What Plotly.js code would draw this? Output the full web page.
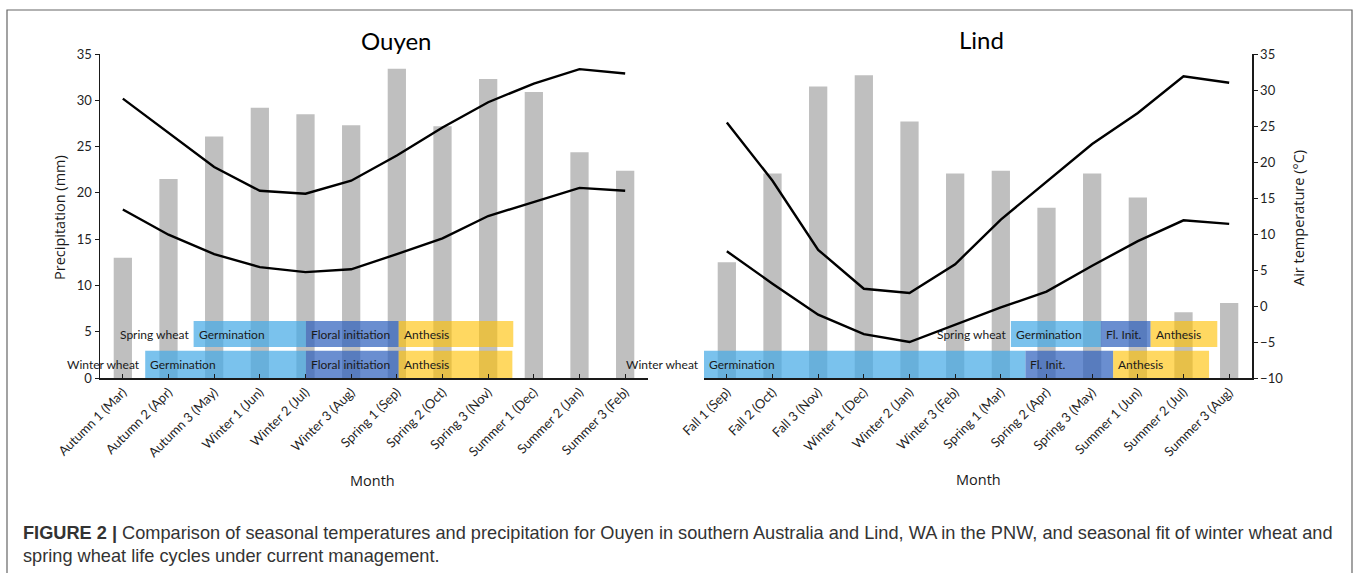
<!DOCTYPE html>
<html>
<head>
<meta charset="utf-8">
<script src="https://cdn.plot.ly/plotly-3.0.1.min.js"></script>
<style>
html,body{margin:0;padding:0;background:#fff;}
#chart{width:1358px;height:573px;}
</style>
</head>
<body>
<div id="chart"></div>
<script>
// ---------- DATA ----------
const ouyenMonths = ["Autumn 1 (Mar)","Autumn 2 (Apr)","Autumn 3 (May)","Winter 1 (Jun)","Winter 2 (Jul)","Winter 3 (Aug)","Spring 1 (Sep)","Spring 2 (Oct)","Spring 3 (Nov)","Summer 1 (Dec)","Summer 2 (Jan)","Summer 3 (Feb)"];
const ouyenPrecip = [13.0, 21.5, 26.1, 29.2, 28.5, 27.3, 33.4, 27.2, 32.3, 30.9, 24.4, 22.4];
const ouyenTmax   = [28.8, 24.1, 19.3, 16.0, 15.6, 17.4, 20.9, 24.8, 28.3, 30.9, 32.9, 32.3];
const ouyenTmin   = [13.4, 9.9, 7.2, 5.4, 4.7, 5.1, 7.2, 9.4, 12.5, 14.5, 16.4, 16.0];

const lindMonths = ["Fall 1 (Sep)","Fall 2 (Oct)","Fall 3 (Nov)","Winter 1 (Dec)","Winter 2 (Jan)","Winter 3 (Feb)","Spring 1 (Mar)","Spring 2 (Apr)","Spring 3 (May)","Summer 1 (Jun)","Summer 2 (Jul)","Summer 3 (Aug)"];
const lindPrecip = [12.5, 22.1, 31.5, 32.7, 27.7, 22.1, 22.4, 18.4, 22.1, 19.5, 7.1, 8.1];
const lindTmax   = [25.5, 17.4, 7.8, 2.4, 1.8, 5.8, 12.0, 17.3, 22.5, 26.8, 31.9, 31.0];
const lindTmin   = [7.6, 3.1, -1.2, -3.9, -5.0, -2.6, -0.2, 2.0, 5.6, 9.0, 11.9, 11.4];

// growth stages (positions in month-index units)
const ouyenStages = ["Germination","Floral initiation","Anthesis"];
const ouyenSpringStart = [1.55, 4.01, 6.04];
const ouyenSpringEnd   = [4.01, 6.04, 8.55];
const ouyenWinterStart = [0.49, 4.01, 6.04];
const ouyenWinterEnd   = [4.01, 6.04, 8.53];

const lindStages = ["Germination","Fl. Init.","Anthesis"];
const lindSpringStart = [6.22, 8.19, 9.28];
const lindSpringEnd   = [8.19, 9.28, 10.74];
const lindWinterStart = [-0.5, 6.54, 8.46];
const lindWinterEnd   = [6.54, 8.46, 10.56];

const cropRows = ["Spring wheat","Winter wheat"];
const rowBottom = [3.35, 0.0];   // precipitation-axis units
const rowTop    = [6.15, 2.95];

const precipTicks = [0,5,10,15,20,25,30,35];
const tempTicks = [-10,-5,0,5,10,15,20,25,30,35];

// ---------- STYLE ----------
const stageColors = ["rgba(70,170,230,0.72)","rgba(48,98,190,0.72)","rgba(255,192,0,0.62)"];
const barColor = "#BFBFBF";
const tickFont = {family:"Lato, 'Open Sans', sans-serif", size:13, color:"#1f1f1f"};
const idx = a => a.map((_,i)=>i);

const traces = [];
function addPanel(months, precip, tmax, tmin, xa, yP, yT){
  traces.push({type:'bar', x:idx(months), y:precip, xaxis:xa, yaxis:yP, width:0.4,
    marker:{color:barColor}, hoverinfo:'skip', showlegend:false});
  [tmax,tmin].forEach(t=>traces.push({type:'scatter', mode:'lines', x:idx(months), y:t, xaxis:xa, yaxis:yT,
    line:{color:'#000', width:2.4}, hoverinfo:'skip', showlegend:false}));
}
function addBands(starts, ends, row, xa, yP){
  const mid = (rowBottom[row]+rowTop[row])/2, w = rowTop[row]-rowBottom[row];
  traces.push({type:'bar', orientation:'h', base:starts, x:ends.map((e,i)=>e-starts[i]),
    y:starts.map(()=>mid), width:w, xaxis:xa, yaxis:yP,
    marker:{color:stageColors, line:{width:0}}, hoverinfo:'skip', showlegend:false});
}
addPanel(ouyenMonths, ouyenPrecip, ouyenTmax, ouyenTmin, 'x', 'y', 'y2');
addPanel(lindMonths, lindPrecip, lindTmax, lindTmin, 'x2', 'y3', 'y4');
addBands(ouyenSpringStart, ouyenSpringEnd, 0, 'x', 'y');
addBands(ouyenWinterStart, ouyenWinterEnd, 1, 'x', 'y');
addBands(lindSpringStart, lindSpringEnd, 0, 'x2', 'y3');
addBands(lindWinterStart, lindWinterEnd, 1, 'x2', 'y3');

const annotations = [];
const labFont = {family:"Lato, sans-serif", size:12, color:'#1a1a1a'};
function bandLabels(stages, starts, row, xa, yP){
  const mid = (rowBottom[row]+rowTop[row])/2;
  annotations.push({xref:xa, yref:yP, x:starts[0], y:mid, text:cropRows[row], showarrow:false,
    xanchor:'right', yanchor:'middle', xshift:-3, font:labFont});
  stages.forEach((s,i)=>annotations.push({xref:xa, yref:yP, x:starts[i], y:mid, text:s, showarrow:false,
    xanchor:'left', yanchor:'middle', xshift:3, font:labFont}));
}
bandLabels(ouyenStages, ouyenSpringStart, 0, 'x', 'y');
bandLabels(ouyenStages, ouyenWinterStart, 1, 'x', 'y');
bandLabels(lindStages, lindSpringStart, 0, 'x2', 'y3');
bandLabels(lindStages, lindWinterStart, 1, 'x2', 'y3');

const H = 573, W = 1358;
const py = p => 1 - p/H, px = p => p/W;
const titleFont = {family:"Lato, sans-serif", size:24, color:'#000'};
const axTitleFont = {family:"'Open Sans', sans-serif", size:14.5, color:'#1a1a1a'};
annotations.push({xref:'paper', yref:'paper', x:px(396), y:py(40), text:'Ouyen', showarrow:false, font:titleFont, xanchor:'center', yanchor:'middle'});
annotations.push({xref:'paper', yref:'paper', x:px(981), y:py(39), text:'Lind', showarrow:false, font:titleFont, xanchor:'center', yanchor:'middle'});
annotations.push({xref:'paper', yref:'paper', x:px(60), y:py(218), text:'Precipitation (mm)', textangle:-90, showarrow:false, font:axTitleFont, xanchor:'center', yanchor:'middle'});
annotations.push({xref:'paper', yref:'paper', x:px(1299), y:py(218), text:'Air temperature (°C)', textangle:-90, showarrow:false, font:axTitleFont, xanchor:'center', yanchor:'middle'});
annotations.push({xref:'paper', yref:'paper', x:px(372), y:py(480), text:'Month', showarrow:false, font:axTitleFont, xanchor:'center', yanchor:'middle'});
annotations.push({xref:'paper', yref:'paper', x:px(978), y:py(479), text:'Month', showarrow:false, font:axTitleFont, xanchor:'center', yanchor:'middle'});
const capFont = {family:"'Liberation Sans', Arial, sans-serif", size:18.2, color:'#333'};
annotations.push({xref:'paper', yref:'paper', x:px(21), y:py(533), text:'<b>FIGURE 2 |</b> Comparison of seasonal temperatures and precipitation for Ouyen in southern Australia and Lind, WA in the PNW, and seasonal fit of winter wheat and', showarrow:false, font:capFont, xanchor:'left', yanchor:'middle'});
annotations.push({xref:'paper', yref:'paper', x:px(21), y:py(556), text:'spring wheat life cycles under current management.', showarrow:false, font:capFont, xanchor:'left', yanchor:'middle'});

const yDom = [py(378), py(54)];
const xCommon = {type:'linear', range:[-0.5,11.5], tickvals:idx(ouyenMonths), tickangle:-45, tickfont:tickFont,
  showgrid:false, zeroline:false, showline:true, linecolor:'#1a1a1a', linewidth:1.5,
  ticks:'inside', ticklen:4, tickcolor:'#1a1a1a', fixedrange:true};
const layout = {
  width:W, height:H, margin:{l:0,r:0,t:0,b:0}, paper_bgcolor:'#fff', plot_bgcolor:'rgba(0,0,0,0)',
  barmode:'overlay', showlegend:false,
  xaxis: Object.assign({}, xCommon, {domain:[px(100), px(648)], ticktext:ouyenMonths, anchor:'y'}),
  xaxis2: Object.assign({}, xCommon, {domain:[px(704), px(1252)], ticktext:lindMonths, anchor:'y3'}),
  yaxis: {domain:yDom, range:[0,35], tickvals:precipTicks, tickfont:tickFont, showgrid:false, zeroline:false,
    showline:true, linecolor:'#1a1a1a', linewidth:1.5, ticks:'outside', ticklen:4, tickcolor:'#1a1a1a', anchor:'x'},
  yaxis2: {domain:yDom, range:[-10,35], overlaying:'y', anchor:'x', side:'right', visible:false},
  yaxis3: {domain:yDom, range:[0,35], anchor:'x2', visible:false},
  yaxis4: {domain:yDom, range:[-10,35], overlaying:'y3', anchor:'x2', side:'right', tickvals:tempTicks, tickfont:tickFont,
    showgrid:false, zeroline:false, showline:true, linecolor:'#1a1a1a', linewidth:1.5, ticks:'outside', ticklen:4, tickcolor:'#1a1a1a'},
  annotations: annotations,
  shapes: [{type:'rect', xref:'paper', yref:'paper', x0:px(7), x1:px(1352), y0:-0.05, y1:py(10),
    line:{color:'#666', width:1.2}, fillcolor:'rgba(0,0,0,0)', layer:'below'}]
};
Plotly.newPlot('chart', traces, layout, {staticPlot:true, displayModeBar:false});
</script>
</body>
</html>
